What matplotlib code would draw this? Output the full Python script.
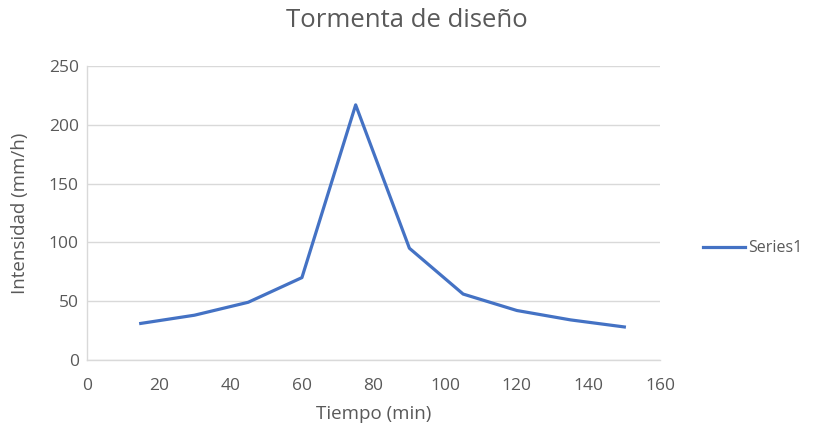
import matplotlib.pyplot as plt

# Datos de la tormenta de diseño (bloques alternos)
tiempo = [15, 30, 45, 60, 75, 90, 105, 120, 135, 150]
intensidad = [31, 38, 49, 70, 217, 95, 56, 42, 34, 28]

plt.rcParams['font.family'] = ['Open Sans', 'DejaVu Sans']

fig = plt.figure(figsize=(8.13, 4.32), dpi=100)
ax = fig.add_axes([0.107, 0.167, 0.705, 0.680])

ax.plot(tiempo, intensidad, color='#4472C4', linewidth=2.3, label='Series1')

ax.set_xlim(0, 160)
ax.set_ylim(0, 250)
ax.set_xticks(range(0, 161, 20))
ax.set_yticks(range(0, 251, 50))
ax.grid(axis='y', color='#D9D9D9', linewidth=1)
ax.set_axisbelow(True)

for s in ['top', 'right']:
    ax.spines[s].set_visible(False)
for s in ['left', 'bottom']:
    ax.spines[s].set_color('#D9D9D9')
    ax.spines[s].set_linewidth(1)

ax.tick_params(length=0, labelsize=12.5, labelcolor='#595959')
ax.tick_params(axis='x', pad=13)
ax.tick_params(axis='y', pad=6)

# título centrado en la figura, como en Excel
fig.text(0.5, 0.953, 'Tormenta de diseño', fontsize=18.5, color='#595959',
         ha='center', va='center')
ax.set_xlabel('Tiempo (min)', fontsize=13.5, color='#595959', labelpad=8)
ax.set_ylabel('Intensidad (mm/h)', fontsize=13.5, color='#595959', labelpad=14)

ax.legend(loc='center left', bbox_to_anchor=(1.05, 0.38), frameon=False,
          fontsize=11.5, labelcolor='#595959', handlelength=2.6,
          handletextpad=0.2)

fig.savefig('out.png', dpi=100)
